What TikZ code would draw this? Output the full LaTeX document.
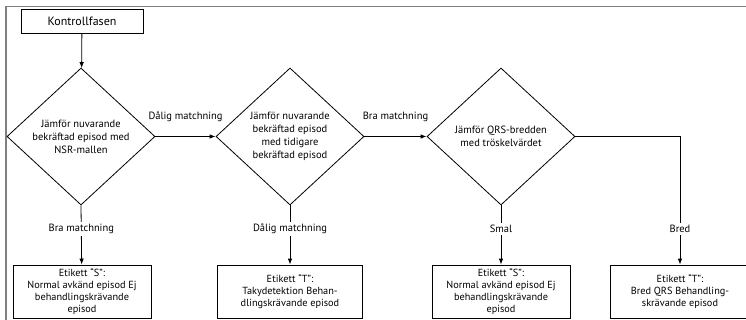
\documentclass[tikz,border=0pt]{standalone}
\usepackage{fontspec}
\setmainfont{PT Sans}
\usetikzlibrary{shapes.geometric,positioning,arrows.meta}
\tikzset{
  frame/.style    = {draw=black!50, line width=1.6pt},
  flowbox/.style  = {shape=rectangle, draw, line width=0.8pt, align=center,
                     inner sep=1pt, font=\fontsize{10.3}{12}\selectfont},
  start/.style    = {flowbox, minimum width=122pt, minimum height=24pt,
                     font=\fontsize{12}{14}\selectfont},
  result/.style   = {flowbox, minimum width=138pt, minimum height=53pt},
  decision/.style = {shape=diamond, draw, line width=0.8pt, align=center,
                     inner sep=0pt, minimum width=148pt, minimum height=137pt,
                     font=\fontsize{10.5}{13}\selectfont},
  answer/.style   = {fill=white, inner sep=2pt, font=\fontsize{10.5}{12}\selectfont},
  flow/.style     = {line width=0.8pt, -{Latex[length=6pt,width=4.5pt]}}
}

\begin{document}
\begin{tikzpicture}
 [x=1pt,y=-1pt]

  \useasboundingbox (0,0) rectangle (746,320);
  \clip (0,0) rectangle (746,320);
  \draw[frame] (6,6.5) rectangle (770,340);

  \node [start] (kontroll) at (82,21) {Kontrollfasen};
  \node [decision] (cmpnsr) at (81,136.5)
    {\\[-4pt]Jämför nuvarande\\bekräftad episod med\\NSR-mallen};
  \node [decision] (cmpprev) at (290,136.5)
    {Jämför nuvarande\\bekräftad episod\\med tidigare\\bekräftad episod};
  \node [decision] (cmpqrs) at (501,136.5)
    {Jämför QRS-bredden\\med tröskelvärdet};

  \node [result] (etikettS1) at (82,291.5)
    {Etikett “S”:\\Normal avkänd episod Ej\\behandlingskrävande\\episod};
  \node [result, minimum width=145pt] (etikettT1) at (290,291.5)
    {Etikett “T”:\\Takydetektion Behan-\\dlingskrävande episod};
  \node [result] (etikettS2) at (501,291.5)
    {Etikett “S”:\\Normal avkänd episod Ej\\behandlingskrävande\\episod};
  \node [result, minimum width=140pt] (etikettT2) at (680,291.5)
    {Etikett “T”:\\Bred QRS Behandling-\\skrävande episod};

  \draw [flow] (kontroll) -- (cmpnsr);
  \draw [flow] (cmpnsr.east) -- node [answer, above=12pt] {Dålig matchning} (cmpprev.west);
  \draw [flow] (cmpprev.east) -- node [answer, above=12pt] {Bra matchning} (cmpqrs.west);
  \draw [flow] (cmpnsr.south) -- node [answer, pos=0.4] {Bra matchning} (etikettS1);
  \draw [flow] (cmpprev.south) -- node [answer, pos=0.4] {Dålig matchning} (etikettT1);
  \draw [flow] (cmpqrs.south) -- node [answer, pos=0.4] {Smal} (etikettS2);
  \draw [flow] (cmpqrs.east) -| node [answer, pos=0.86] {Bred} (etikettT2.north);
\end{tikzpicture}
\end{document}
